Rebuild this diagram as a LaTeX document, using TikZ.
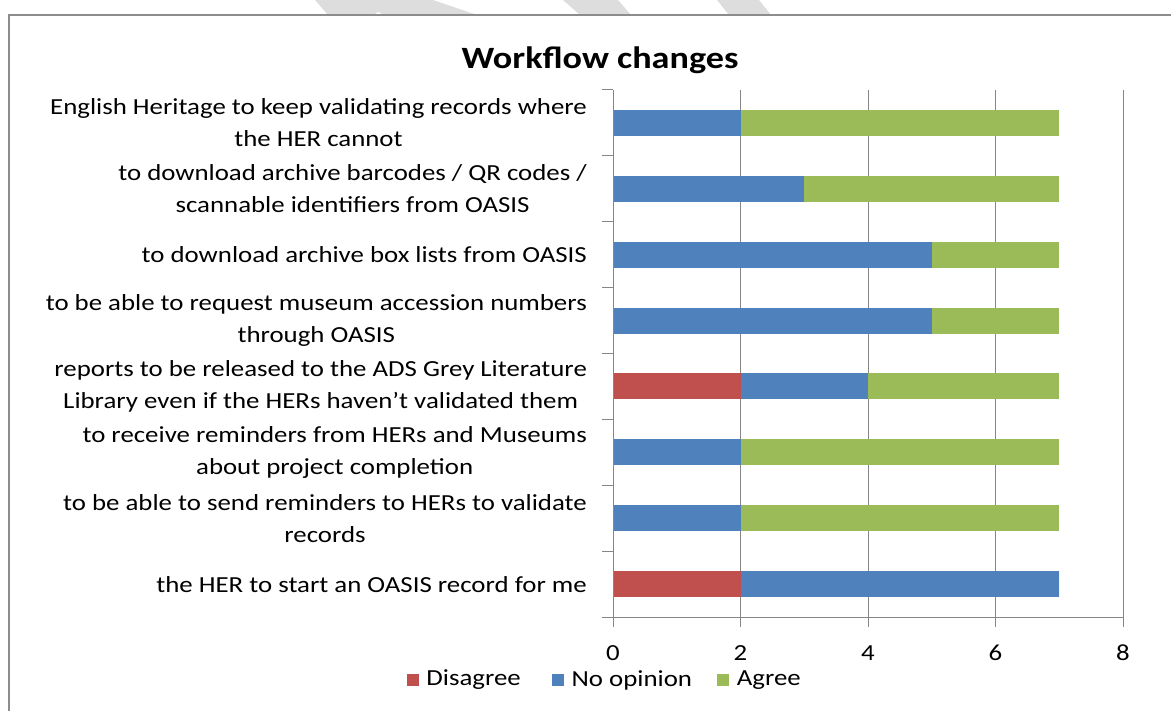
\documentclass[tikz,border=0pt]{standalone}
\usepackage{fontspec}
\setmainfont{Carlito}[FakeStretch=1.167]
\usetikzlibrary{positioning}

\definecolor{disagree}{HTML}{C0504D}
\definecolor{noopinion}{HTML}{4F81BD}
\definecolor{agree}{HTML}{9BBB59}
\definecolor{axisgray}{HTML}{868686}
\definecolor{framegray}{HTML}{8C8C8C}
\definecolor{watermark}{HTML}{DDDDDD}

\tikzset{
  lbl/.style={anchor=east, align=center, inner sep=0pt, font=\fontsize{23}{32}\selectfont},
  ticklbl/.style={inner sep=0pt, font=\fontsize{23}{26}\selectfont},
  legbox/.style={minimum size=12pt, inner sep=0pt},
  legtext/.style={inner sep=0pt, font=\fontsize{23}{26}\selectfont},
  grid/.style={axisgray, line width=1pt}
}

\begin{document}
\begin{tikzpicture}[x=1pt,y=-1pt]
\useasboundingbox (0,0) rectangle (1171,711);
\clip (0,0) rectangle (1171,711);
\fill[white] (0,0) rectangle (1171,711);
% watermark strokes above the frame
\fill[watermark] (315,0) -- (433,0) -- (477,15) -- (328,15) -- cycle;
\fill[white] (374,15) -- (378,12) -- (384,15) -- cycle;
\fill[watermark] (563,0) -- (618,0) -- (631,15) -- (580,15) -- cycle;
\fill[watermark] (717,0) -- (759,0) -- (771,15) -- (729,15) -- cycle;
\draw[framegray, line width=2pt] (9,720) -- (9,15) -- (1180,15);

\node[font=\bfseries\fontsize{31}{36}\selectfont, inner sep=0pt] (title) at (600,60) {Workflow changes};

\foreach \v in {2,4,6,8}
  \draw[grid] (613+63.75*\v,90) -- (613+63.75*\v,617);

\foreach \i/\d/\n/\a in {1/0/2/5, 2/0/3/4, 3/0/5/2, 4/0/5/2, 5/2/2/3, 6/0/2/5, 7/0/2/5, 8/2/5/0} {
  \pgfmathsetmacro\yc{90+65.875*(\i-0.5)}
  \fill[disagree] (613,\yc-13) rectangle ++(63.75*\d,26);
  \fill[noopinion] (613+63.75*\d,\yc-13) rectangle ++(63.75*\n,26);
  \fill[agree] (613+63.75*\d+63.75*\n,\yc-13) rectangle ++(63.75*\a,26);
}

\draw[grid] (613,90) -- (613,617) -- (1123,617);
\foreach \k in {0,...,8}
  \draw[grid] (602,90+65.875*\k) -- (613,90+65.875*\k);
\foreach \k in {0,...,4} {
  \draw[grid] (613+127.5*\k,617) -- ++(0,10);
  \pgfmathtruncatemacro\t{2*\k}
  \node[ticklbl] (tick\k) at (613+127.5*\k,653) {\t};
}

\foreach \i/\t in {
  1/{English Heritage to keep validating records where\\the HER cannot},
  2/{to download archive barcodes / QR codes /\\scannable identifiers from OASIS},
  3/{to download archive box lists from OASIS},
  4/{to be able to request museum accession numbers\\through OASIS},
  5/{reports to be released to the ADS Grey Literature\\Library even if the HERs haven’t validated them},
  6/{to receive reminders from HERs and Museums\\about project completion},
  7/{to be able to send reminders to HERs to validate\\records},
  8/{the HER to start an OASIS record for me}}
  \node[lbl] (cat\i) at (587,90+65.875*\i-32.9) {\t};

% legend
\node[legbox, fill=disagree] (keyd) at (413,680) {};
\node[legtext, right=7pt of keyd] (txtd) {Disagree};
\node[legbox, fill=noopinion, right=31pt of txtd] (keyn) {};
\node[legtext, right=7pt of keyn] (txtn) {No opinion};
\node[legbox, fill=agree, right=25pt of txtn] (keya) {};
\node[legtext, right=7pt of keya] (txta) {Agree};
\end{tikzpicture}
\end{document}
